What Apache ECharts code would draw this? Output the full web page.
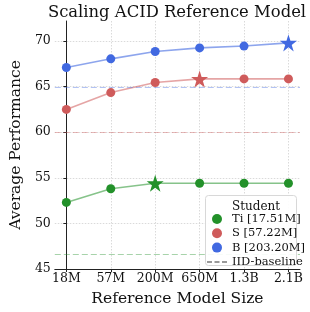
<!DOCTYPE html>
<html><head><meta charset="utf-8">
<script src="https://cdn.jsdelivr.net/npm/echarts@6/dist/echarts.min.js"></script>
<style>html,body{margin:0;padding:0;background:#fff}#c{width:310px;height:312px}</style>
</head><body><div id="c"></div>
<script>
const categories = ['18M', '57M', '200M', '650M', '1.3B', '2.1B'];
const tiValues = [52.3, 53.8, 54.4, 54.4, 54.4, 54.4];
const sValues = [62.5, 64.35, 65.45, 65.85, 65.85, 65.85];
const bValues = [67.1, 68.05, 68.85, 69.25, 69.45, 69.8];
const tiBest = 2, sBest = 3, bBest = 5;
const tiBaseline = 46.65, sBaseline = 60.0, bBaseline = 64.95;
const yTicks = [45, 50, 55, 60, 65, 70];
const seriesNames = ['Ti [17.51M]', 'S [57.22M]', 'B [203.20M]'];
const baselineName = 'IID-baseline';

const FONT = 'DejaVu Serif';
const STAR = 'path://M50,0 L61.2,34.5 L97.6,34.5 L68.2,55.9 L79.4,90.5 L50,69.1 L20.6,90.5 L31.8,55.9 L2.4,34.5 L38.8,34.5 Z';
const xIdx = categories.map((c, i) => i);

function mkSeries(name, vals, best, color, lineColor, base, baseColor) {
  return {
    name: name, type: 'line',
    data: vals.map((v, i) => i === best
      ? {value: [i, v], symbol: STAR, symbolSize: 17}
      : {value: [i, v]}),
    symbol: 'circle', symbolSize: 9,
    itemStyle: {color: color},
    lineStyle: {color: lineColor, width: 1.6},
    z: 3,
    markLine: {
      silent: true, symbol: 'none', label: {show: false},
      lineStyle: {color: baseColor, type: [6, 3], width: 1.2},
      data: [{yAxis: base}]
    }
  };
}

const chart = echarts.init(document.getElementById('c'));
chart.setOption({
  animation: false,
  backgroundColor: '#fff',
  textStyle: {fontFamily: FONT},
  title: [{
    text: 'Scaling ACID Reference Model', left: 172, top: 0, textAlign: 'center',
    textStyle: {fontFamily: FONT, fontSize: 16.4, fontWeight: 'normal', color: '#111'}
  }, {
    text: 'Student', left: 251, top: 196, textAlign: 'center', z: 120,
    textStyle: {fontFamily: FONT, fontSize: 12, fontWeight: 'normal', color: '#111'}
  }],
  grid: {left: 44, right: 10, top: 21, bottom: 41},
  graphic: [{
    type: 'rect', left: 205, top: 195, z: 90,
    shape: {width: 91, height: 70, r: 3},
    style: {fill: 'rgba(255,255,255,0.9)', stroke: '#d8d8d8', lineWidth: 1}
  }],
  legend: {
    orient: 'vertical', left: 207, top: 213, z: 110,
    itemWidth: 20, itemHeight: 10, itemGap: 2.3, padding: 0,
    textStyle: {fontFamily: FONT, fontSize: 11.5, color: '#111'},
    data: [
      {name: seriesNames[0], icon: 'circle'},
      {name: seriesNames[1], icon: 'circle'},
      {name: seriesNames[2], icon: 'circle'},
      {name: baselineName, icon: 'path://M0,4 L5,4 L5,6 L0,6 Z M7.5,4 L12.5,4 L12.5,6 L7.5,6 Z M15,4 L20,4 L20,6 L15,6 Z'}
    ]
  },
  xAxis: {
    type: 'value', min: -0.26, max: 5.26,
    name: 'Reference Model Size', nameLocation: 'middle', nameGap: 22,
    nameTextStyle: {fontFamily: FONT, fontSize: 15.5, color: '#111'},
    axisLine: {show: true, lineStyle: {color: '#222', width: 1}},
    axisTick: {show: true, customValues: xIdx, length: 3, lineStyle: {color: '#222'}},
    axisLabel: {customValues: xIdx, formatter: v => categories[Math.round(v)], margin: 3,
      fontFamily: FONT, fontSize: 12.5, color: '#111'},
    splitLine: {show: true, lineStyle: {color: '#d0d0d0', type: [1.5, 1.5], width: 0.8}}
  },
  yAxis: {
    type: 'value', min: 45, max: 72.2,
    name: 'Average Performance', nameLocation: 'middle', nameGap: 28,
    nameTextStyle: {fontFamily: FONT, fontSize: 15.5, color: '#111'},
    axisLine: {show: true, lineStyle: {color: '#222', width: 1}},
    axisTick: {show: true, customValues: yTicks, length: 3, lineStyle: {color: '#222'}},
    axisLabel: {customValues: yTicks, margin: 4, fontFamily: FONT, fontSize: 12.5, color: '#111'},
    splitLine: {show: true, lineStyle: {color: '#d0d0d0', type: [1.5, 1.5], width: 0.8}}
  },
  series: [
    mkSeries(seriesNames[0], tiValues, tiBest, '#23912a', 'rgba(35,145,42,0.55)', tiBaseline, 'rgba(35,145,42,0.4)'),
    mkSeries(seriesNames[1], sValues, sBest, '#cf5b5b', 'rgba(207,91,91,0.55)', sBaseline, 'rgba(207,91,91,0.4)'),
    mkSeries(seriesNames[2], bValues, bBest, '#4169e1', 'rgba(65,105,225,0.6)', bBaseline, 'rgba(65,105,225,0.4)'),
    {name: baselineName, type: 'line', data: [], itemStyle: {color: '#999'}, lineStyle: {color: '#999'}}
  ]
});
</script></body></html>
